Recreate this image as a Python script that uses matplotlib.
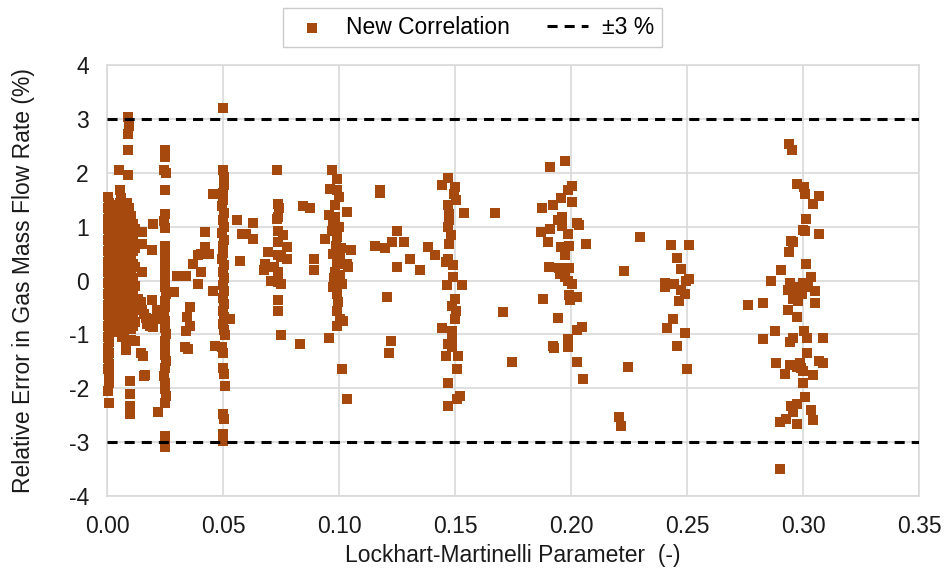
import numpy as np
import matplotlib
matplotlib.use('Agg')
import matplotlib.pyplot as plt

# ---- data: (Lockhart-Martinelli parameter, relative error %) ----
pts_x000 = [(0.0006, 1.55), (0.0008, 1.45), (0.0005, 1.35), (0.0009, 1.25), (0.0006, 1.15),
            (0.0008, 1.05), (0.0005, 0.95), (0.0009, 0.85), (0.0006, 0.75), (0.0008, 0.65),
            (0.0005, 0.55), (0.0009, 0.45), (0.0006, 0.35), (0.0008, 0.25), (0.0005, 0.15),
            (0.0009, 0.05), (0.0006, -0.05), (0.0008, -0.15), (0.0005, -0.25), (0.0009, -0.35),
            (0.0006, -0.45), (0.0008, -0.55), (0.0005, -0.65), (0.0009, -0.75), (0.0006, -0.85),
            (0.0008, -0.95), (0.0005, -1.05), (0.0009, -1.15), (0.0006, -1.25), (0.0008, -1.35),
            (0.0005, -1.45), (0.0009, -1.55), (0.0006, -1.65), (0.0008, -1.73), (0.0007, -1.90),
            (0.0006, -2.05), (0.0007, -2.27)]

pts_x008 = [(0.0092, 3.05), (0.0096, 2.88), (0.0090, 2.73), (0.0092, 2.42), (0.0050, 2.05),
            (0.0092, 1.96), (0.0056, 1.68), (0.0060, 1.53), (0.0085, 1.44), (0.0075, 1.37),
            (0.0030, 1.22), (0.0030, 1.05), (0.0030, 0.88), (0.0030, 0.70), (0.0030, 0.52),
            (0.0030, 0.35), (0.0030, 0.18), (0.0030, 0.02), (0.0030, -0.15), (0.0030, -0.32),
            (0.0030, -0.50), (0.0030, -0.68),
            (0.0048, 1.30), (0.0048, 1.12), (0.0048, 0.95), (0.0048, 0.78), (0.0048, 0.60),
            (0.0048, 0.44), (0.0048, 0.27), (0.0048, 0.10), (0.0048, -0.08), (0.0048, -0.25),
            (0.0048, -0.42), (0.0048, -0.60), (0.0048, -0.80), (0.0048, -0.95),
            (0.0066, 1.18), (0.0066, 1.00), (0.0066, 0.83), (0.0066, 0.66), (0.0066, 0.48),
            (0.0066, 0.31), (0.0066, 0.14), (0.0066, -0.04), (0.0066, -0.21), (0.0066, -0.38),
            (0.0066, -0.56), (0.0066, -0.74), (0.0066, -1.05),
            (0.0084, 1.27), (0.0084, 1.09), (0.0084, 0.91), (0.0084, 0.74), (0.0084, 0.57),
            (0.0084, 0.39), (0.0084, 0.22), (0.0084, 0.05), (0.0084, -0.12), (0.0084, -0.30),
            (0.0084, -0.47), (0.0084, -0.65), (0.0084, -0.85), (0.0084, -1.15), (0.0084, -1.30),
            (0.0102, 1.20), (0.0102, 1.02), (0.0102, 0.85), (0.0102, 0.67), (0.0102, 0.50),
            (0.0102, 0.32), (0.0102, 0.15), (0.0102, -0.02), (0.0102, -0.20), (0.0102, -0.37),
            (0.0102, -0.55), (0.0102, -0.72), (0.0102, -0.90), (0.0102, -1.10),
            (0.0120, 0.95), (0.0120, 0.60), (0.0120, 0.25), (0.0120, -0.10), (0.0120, -0.45),
            (0.0120, -0.78), (0.0120, -1.12),
            (0.0150, 0.90), (0.0150, 0.68), (0.0200, 1.06), (0.0193, 0.56), (0.0150, 0.16),
            (0.0193, -0.37), (0.0155, -1.40), (0.0160, -1.77), (0.0098, -1.86), (0.0098, -2.11),
            (0.0098, -2.33), (0.0098, -2.48), (0.0200, -0.87), (0.0172, -0.80), (0.0145, -0.40),
            (0.0160, -0.62), (0.0135, -0.35), (0.0150, -0.55), (0.0170, -0.70), (0.0185, -0.85),
            (0.0205, -0.72), (0.0215, -0.55), (0.0147, -1.35), (0.0162, -1.76)]

pts_x008_fill = [(0.0039, 1.40), (0.0039, 1.15), (0.0039, 0.95), (0.0039, 0.75), (0.0039, 0.55),
                 (0.0039, 0.35), (0.0039, 0.15), (0.0039, -0.05), (0.0039, -0.25), (0.0039, -0.45),
                 (0.0057, 1.45), (0.0057, 1.25), (0.0057, 1.05), (0.0057, 0.88), (0.0057, 0.70),
                 (0.0057, 0.52), (0.0057, 0.35), (0.0057, 0.18), (0.0057, 0.00), (0.0057, -0.18),
                 (0.0057, -0.35), (0.0057, -0.52),
                 (0.0075, 1.30), (0.0075, 1.10), (0.0075, 0.92), (0.0075, 0.75), (0.0075, 0.58),
                 (0.0075, 0.40), (0.0075, 0.22), (0.0075, 0.05), (0.0075, -0.12), (0.0075, -0.30),
                 (0.0075, -0.48), (0.0075, -0.66), (0.0075, -0.95),
                 (0.0093, 1.35), (0.0093, 1.15), (0.0093, 0.96), (0.0093, 0.78), (0.0093, 0.60),
                 (0.0093, 0.42), (0.0093, 0.25), (0.0093, 0.08), (0.0093, -0.10), (0.0093, -0.28),
                 (0.0093, -0.45), (0.0093, -0.62), (0.0093, -0.80),
                 (0.0111, 1.05), (0.0111, 0.80), (0.0111, 0.55), (0.0111, 0.30), (0.0111, 0.05),
                 (0.0111, -0.25), (0.0111, -0.40), (0.0111, -0.60), (0.0111, -0.85)]

pts_x025 = [(0.0249, 2.42), (0.0252, 2.30), (0.0246, 2.05), (0.0253, 2.00), (0.0249, 1.68),
            (0.0250, 1.24), (0.0247, 1.10), (0.0252, 0.97), (0.0250, 0.65), (0.0248, 0.45),
            (0.0252, 0.30), (0.0249, 0.15), (0.0251, 0.00), (0.0248, -0.12), (0.0253, -0.25),
            (0.0249, -0.38), (0.0251, -0.50), (0.0247, -0.62), (0.0252, -0.75), (0.0249, -0.88),
            (0.0253, -1.00), (0.0248, -1.12), (0.0251, -1.25), (0.0249, -1.38), (0.0253, -1.50),
            (0.0250, -1.62), (0.0247, -1.78), (0.0252, -1.90), (0.0250, -2.02), (0.0253, -2.15),
            (0.0249, -2.28), (0.0250, -2.89), (0.0251, -3.00), (0.0250, -3.10), (0.0220, -2.45)]

pts_x035 = [(0.0300, 0.09), (0.0340, 0.09), (0.0290, -0.22), (0.0358, -0.50), (0.0345, -0.68),
            (0.0358, -0.84), (0.0340, -0.93), (0.0350, -1.27), (0.0394, 0.47), (0.0422, 0.90),
            (0.0405, 0.50), (0.0370, 0.31), (0.0405, 0.16), (0.0394, -0.06), (0.0422, 0.62),
            (0.0458, 1.61), (0.0440, 0.50), (0.0457, -0.19), (0.0338, -1.23), (0.0465, -1.21)]

pts_x050 = [(0.0501, 3.20), (0.0500, 2.05), (0.0503, 1.93), (0.0505, 1.77), (0.0498, 1.62),
            (0.0502, 1.50), (0.0496, 1.38), (0.0504, 1.25), (0.0499, 1.12), (0.0503, 1.00),
            (0.0497, 0.88), (0.0505, 0.76), (0.0500, 0.64), (0.0502, 0.52), (0.0497, 0.40),
            (0.0504, 0.28), (0.0499, 0.16), (0.0503, 0.04), (0.0498, -0.08), (0.0505, -0.20),
            (0.0500, -0.32), (0.0503, -0.44), (0.0498, -0.56), (0.0506, -0.68), (0.0501, -0.80),
            (0.0504, -0.92), (0.0507, -1.02), (0.0494, -1.24), (0.0502, -1.35), (0.0500, -1.62),
            (0.0505, -1.74), (0.0508, -1.96), (0.0498, -2.48), (0.0503, -2.58), (0.0498, -2.86),
            (0.0501, -2.98), (0.0559, 1.12), (0.0580, 0.87), (0.0575, 0.37), (0.0530, -0.71),
            (0.0631, 1.07), (0.0600, 0.87), (0.0631, 0.78)]

pts_x075 = [(0.0731, 2.06), (0.0735, 1.43), (0.0742, 1.34), (0.0738, 1.19), (0.0733, 1.15),
            (0.0738, 0.93), (0.0760, 0.84), (0.0738, 0.71), (0.0775, 0.63), (0.0695, 0.53),
            (0.0735, 0.47), (0.0752, 0.43), (0.0775, 0.40), (0.0680, 0.31), (0.0677, 0.19),
            (0.0722, 0.25), (0.0735, 0.16), (0.0705, 0.00), (0.0735, -0.03), (0.0752, -0.06),
            (0.0738, -0.37), (0.0738, -0.56), (0.0752, -1.02), (0.0832, -1.18), (0.0846, 1.38),
            (0.0875, 1.34)]

pts_x100 = [(0.0968, 2.06), (0.0990, 1.89), (0.0960, 1.71), (0.0990, 1.68), (0.0998, 1.55),
            (0.0984, 1.40), (0.0955, 1.21), (0.0984, 1.18), (0.0975, 1.05), (0.1000, 1.00),
            (0.0968, 0.93), (0.0940, 0.78), (0.0990, 0.81), (0.0985, 0.65), (0.1010, 0.60),
            (0.0975, 0.50), (0.1004, 0.43), (0.0990, 0.31), (0.0984, 0.16), (0.1033, 0.31),
            (0.1005, 0.10), (0.0978, 0.05), (0.1011, -0.06), (0.0975, -0.12), (0.0990, -0.25),
            (0.0997, -0.40), (0.0990, -0.56), (0.1004, -0.71), (0.1018, -0.75), (0.0993, -0.85),
            (0.0959, -1.07), (0.1036, 1.27), (0.0892, 0.40), (0.0892, 0.19), (0.1011, -1.65),
            (0.1033, -2.20), (0.1050, 0.57), (0.1040, 0.25)]

pts_x125 = [(0.1177, 1.68), (0.1177, 1.62), (0.1155, 0.65), (0.1200, 0.61), (0.1228, 0.71),
            (0.1250, 0.93), (0.1280, 0.71), (0.1306, 0.40), (0.1250, 0.25), (0.1350, 0.20),
            (0.1385, 0.62), (0.1414, 0.47), (0.1207, -0.30), (0.1224, -1.12), (0.1214, -1.35)]

pts_x150 = [(0.1470, 1.91), (0.1443, 1.77), (0.1500, 1.74), (0.1497, 1.61), (0.1505, 1.49),
            (0.1470, 1.40), (0.1475, 1.24), (0.1475, 1.12), (0.1468, 1.00), (0.1482, 0.84),
            (0.1475, 0.68), (0.1538, 1.25), (0.1672, 1.26), (0.1468, 0.40), (0.1490, 0.28),
            (0.1460, 0.35), (0.1490, 0.06), (0.1465, -0.08), (0.1530, -0.08), (0.1500, -0.34),
            (0.1485, -0.47), (0.1505, -0.56), (0.1502, -0.71), (0.1443, -0.88), (0.1485, -0.93),
            (0.1485, -1.09), (0.1470, -1.18), (0.1485, -1.24), (0.1460, -1.40), (0.1512, -1.41),
            (0.1510, -1.65), (0.1468, -1.91), (0.1520, -2.14), (0.1510, -2.20), (0.1468, -2.33),
            (0.1708, -0.59), (0.1744, -1.51)]

pts_x200 = [(0.1974, 2.22), (0.1909, 2.11), (0.2006, 1.76), (0.1989, 1.68), (0.1957, 1.54),
            (0.2006, 1.46), (0.1921, 1.41), (0.1873, 1.34), (0.1945, 1.13), (0.1960, 1.18),
            (0.1960, 1.02), (0.2028, 1.07), (0.2035, 1.04), (0.1910, 0.96), (0.1870, 0.90),
            (0.1989, 0.86), (0.1900, 0.71), (0.1957, 0.63), (0.1992, 0.65), (0.2064, 0.67),
            (0.1974, 0.48), (0.1906, 0.25), (0.1950, 0.24), (0.1991, 0.24), (0.1952, 0.12),
            (0.1974, 0.07), (0.1989, 0.00), (0.2005, -0.06), (0.1990, -0.26), (0.2025, -0.31),
            (0.1995, -0.36), (0.1880, -0.34), (0.1945, -0.70), (0.2047, -0.86), (0.2025, -0.92),
            (0.1989, -1.09), (0.1989, -1.24), (0.1924, -1.21), (0.1927, -1.26), (0.2025, -1.51),
            (0.2053, -1.84)]

pts_x225 = [(0.2297, 0.81), (0.2227, 0.17), (0.2245, -1.60), (0.2209, -2.53), (0.2216, -2.70)]

pts_x250 = [(0.2431, 0.66), (0.2509, 0.66), (0.2459, 0.42), (0.2473, 0.22), (0.2405, -0.05),
            (0.2407, -0.12), (0.2443, -0.06), (0.2475, -0.17), (0.2492, -0.25), (0.2465, -0.39),
            (0.2494, 0.00), (0.2510, 0.03), (0.2438, -0.71), (0.2412, -0.88), (0.2491, -0.98),
            (0.2458, -1.21), (0.2501, -1.65)]

pts_x300 = [(0.2940, 2.53), (0.2954, 2.42), (0.2973, 1.79), (0.3006, 1.73), (0.3009, 1.61),
            (0.3071, 1.57), (0.3045, 1.43), (0.3011, 1.14), (0.3001, 0.94), (0.3009, 0.93),
            (0.3071, 0.87), (0.2947, 0.73), (0.2958, 0.71), (0.2941, 0.53), (0.3011, 0.30),
            (0.2903, 0.19), (0.2861, -0.01), (0.3033, 0.06), (0.2944, -0.05), (0.2937, -0.17),
            (0.3001, -0.05), (0.2987, -0.12), (0.3022, -0.12), (0.3052, -0.19), (0.2973, -0.22),
            (0.2995, -0.25), (0.2958, -0.34), (0.2980, -0.39), (0.3052, -0.41), (0.2826, -0.41),
            (0.2764, -0.45), (0.2935, -0.54), (0.2973, -0.67), (0.2879, -0.94), (0.3003, -0.93),
            (0.2829, -1.09), (0.2944, -1.15), (0.2958, -1.07), (0.3016, -1.07), (0.3085, -1.06),
            (0.3016, -1.35), (0.2883, -1.54), (0.2944, -1.58), (0.2923, -1.73), (0.2987, -1.54),
            (0.2990, -1.63), (0.2973, -1.61), (0.3001, -1.68), (0.3043, -1.75), (0.3071, -1.50),
            (0.3087, -1.53), (0.3001, -1.90), (0.3009, -2.16), (0.2973, -2.30), (0.2950, -2.33),
            (0.2958, -2.44), (0.3033, -2.41), (0.2925, -2.57), (0.2901, -2.64), (0.2973, -2.66),
            (0.3043, -2.60), (0.2901, -3.51)]

limit_pct = 3.0
x_ticks = [0.00, 0.05, 0.10, 0.15, 0.20, 0.25, 0.30, 0.35]
y_ticks = [-4, -3, -2, -1, 0, 1, 2, 3, 4]

all_pts = np.array(pts_x000 + pts_x008 + pts_x008_fill + pts_x025 + pts_x035 + pts_x050
                   + pts_x075 + pts_x100 + pts_x125 + pts_x150 + pts_x200 + pts_x225
                   + pts_x250 + pts_x300)

plt.rcParams['font.family'] = ['Liberation Sans', 'DejaVu Sans']
plt.rcParams['axes.unicode_minus'] = False

fig = plt.figure(figsize=(9.45, 5.79), dpi=100)
ax = fig.add_axes([0.1132, 0.144, 0.8593, 0.743])

grid_c = '#d9d9d9'
fs = 16.5
ax.scatter(all_pts[:, 0], all_pts[:, 1], marker='s', s=48, color='#a5490f',
           linewidths=0, zorder=3, clip_on=False, label='New Correlation')
ax.axhline(limit_pct, color='black', lw=2.2, dashes=(3.3, 2.3), zorder=4, label='±3 %')
ax.axhline(-limit_pct, color='black', lw=2.2, dashes=(3.3, 2.3), zorder=4)

ax.set_xlim(0, 0.35)
ax.set_ylim(-4, 4)
ax.set_xticks(x_ticks)
ax.set_yticks(y_ticks)
ax.set_xticklabels(['%.2f' % t for t in x_ticks])
ax.tick_params(length=0, labelsize=fs, colors='#1a1a1a')
ax.tick_params(axis='x', pad=14)
ax.tick_params(axis='y', pad=13)
ax.grid(True, color=grid_c, lw=1.2, zorder=0)
for s in ax.spines.values():
    s.set_color(grid_c)
    s.set_linewidth(1.2)

ax.set_xlabel('Lockhart-Martinelli Parameter  (-)', fontsize=fs, labelpad=4, color='#1a1a1a')
ax.set_ylabel('Relative Error in Gas Mass Flow Rate (%)', fontsize=fs, labelpad=24,
              color='#1a1a1a')

fig.legend(loc='upper center', bbox_to_anchor=(0.5, 1.006), ncol=2, fontsize=fs,
           frameon=True, fancybox=False, edgecolor='#bfbfbf', handlelength=1.8,
           columnspacing=1.6, borderpad=0.35, handletextpad=0.6)

plt.savefig('out.png', dpi=100)
